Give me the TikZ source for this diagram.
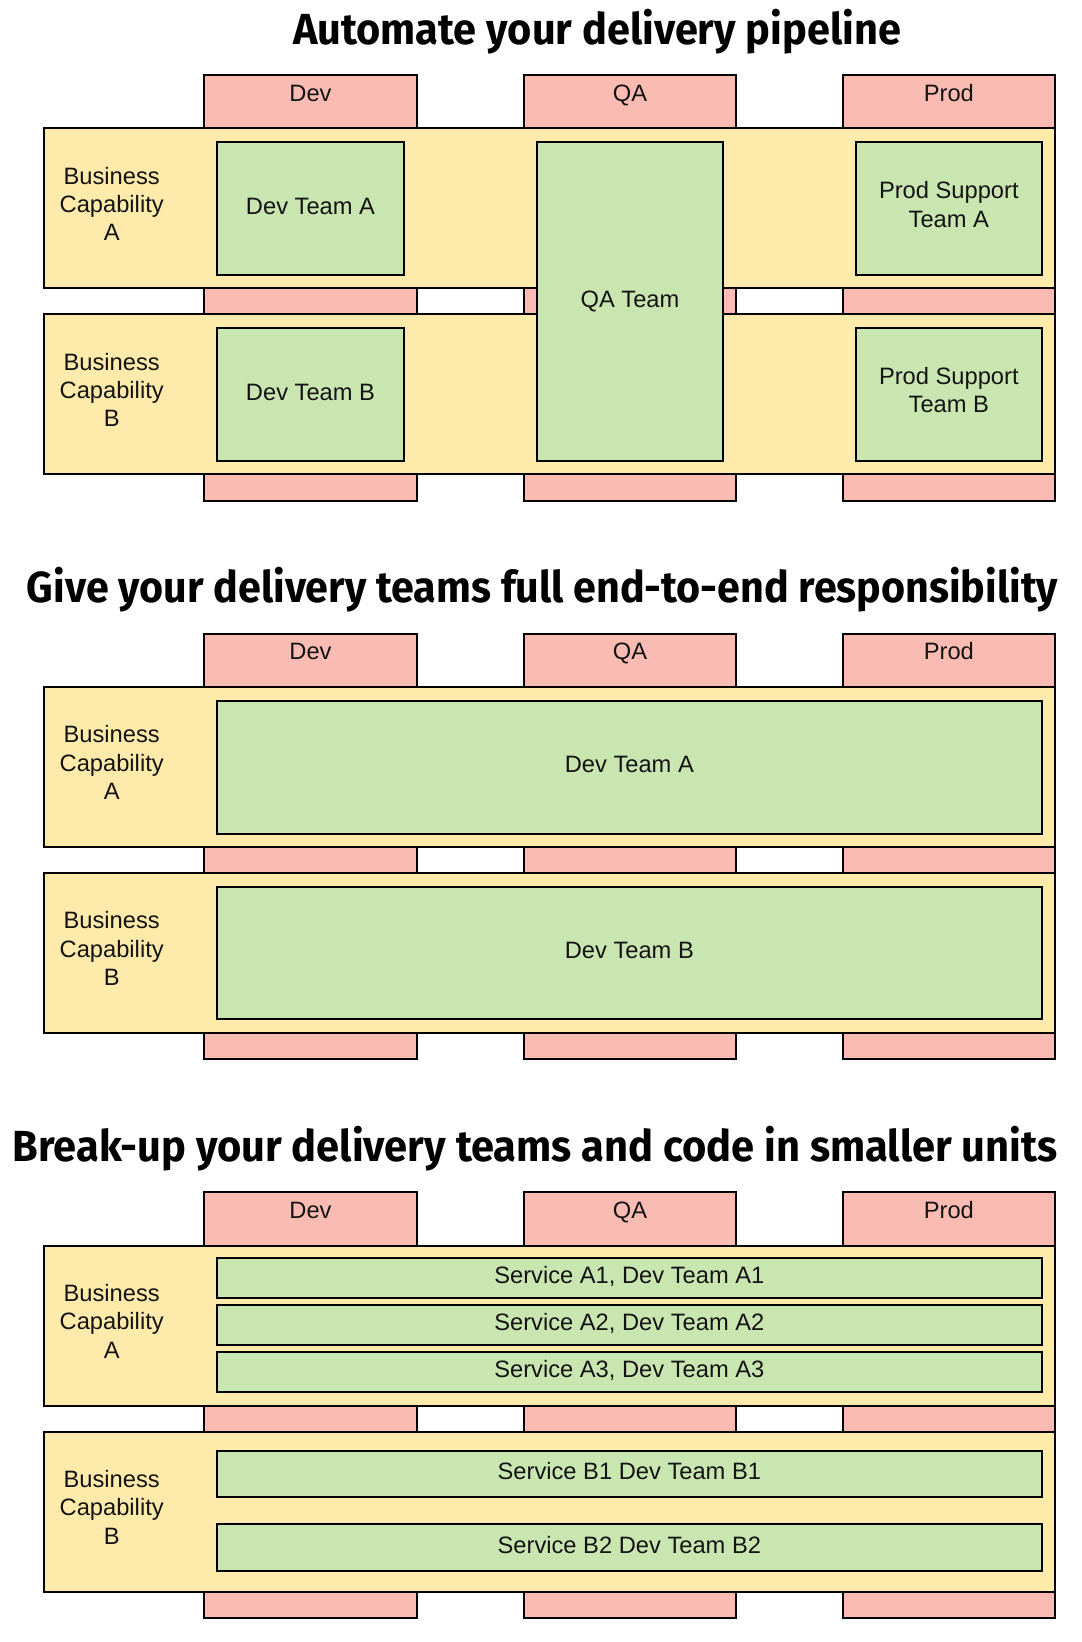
\documentclass[tikz,border=0pt]{standalone}
\usepackage{fontspec}
\setmainfont{Liberation Sans}
\newfontfamily\headingfamily{Fira Sans}
\usepackage{graphicx}

\definecolor{stagefill}{RGB}{250,188,178}
\definecolor{lanefill}{RGB}{254,234,170}
\definecolor{teamfill}{RGB}{201,229,176}

\newcommand\bodyfont{\fontsize{23.7}{28.3}\selectfont}
\newcommand\headingfont{\headingfamily\bfseries\fontsize{43.5}{50}\selectfont}

% rectangle node given by its corners: style, name, x1, y1, x2, y2
\newcommand\rectnode[6]{%
  \node[#1, minimum width={((#5)-(#3))*1pt}, minimum height={((#6)-(#4))*1pt}]
    (#2) at ({((#3)+(#5))/2},{((#4)+(#6))/2})}

\tikzset{
  every node/.style={inner sep=0pt, outer sep=0pt},
  outlined/.style={draw=black, line width=2pt, rectangle},
  stagebox/.style={outlined, fill=stagefill},
  lanebox/.style={outlined, fill=lanefill},
  labeltext/.style={font=\bodyfont, align=center, text=black!92,
    execute at begin node=\strut, execute at end node=\strut},
  teambox/.style={outlined, fill=teamfill, labeltext},
  headtext/.style={font=\bodyfont, text=black!92},
  titletext/.style={font=\headingfont, text=black},
}

\begin{document}
\begin{tikzpicture}[x=1pt, y=-1pt]
\useasboundingbox (0,0) rectangle (1082,1642);
\fill[white] (0,0) rectangle (1082,1642);

% headings
\node[titletext, anchor=base west] (title1) at (293,44)
  {\resizebox{608pt}{\height}{Automate your delivery pipeline}};
\node[titletext, anchor=base west] (title2) at (27,602.6)
  {\resizebox{1031pt}{\height}{Give your delivery teams full end-to-end responsibility}};
\node[titletext, anchor=base west] (title3) at (12.6,1161.2)
  {\resizebox{1045pt}{\height}{Break-up your delivery teams and code in smaller units}};

% stages, capability lanes and lane labels, repeated for each panel
\foreach \k/\oy in {1/0, 2/558.6, 3/1117.2}{
  \rectnode{stagebox}{dev\k}{204}{\oy+75}{417}{\oy+500.7}{};
  \rectnode{stagebox}{qa\k}{523.7}{\oy+75}{736.3}{\oy+500.7}{};
  \rectnode{stagebox}{prod\k}{843}{\oy+75}{1054.7}{\oy+500.7}{};
  \node[headtext, anchor=base] (devh\k) at (310.5,{\oy+101}) {Dev};
  \node[headtext, anchor=base] (qah\k) at (630,{\oy+101}) {QA};
  \node[headtext, anchor=base] (prodh\k) at (948.85,{\oy+101}) {Prod};
  \rectnode{lanebox}{laneA\k}{44.3}{\oy+128.3}{1054.7}{\oy+288.3}{};
  \rectnode{lanebox}{laneB\k}{44.3}{\oy+314.3}{1054.7}{\oy+474.3}{};
  \node[labeltext] (capA\k) at (111.7,{\oy+208.3}) {Business\\Capability\\A};
  \node[labeltext] (capB\k) at (111.7,{\oy+394.3}) {Business\\Capability\\B};
}

% panel 1: teams per stage
\rectnode{teambox}{devA}{217}{142.3}{404}{275}{Dev Team A};
\rectnode{teambox}{devB}{217}{328.3}{404}{460.7}{Dev Team B};
\rectnode{teambox}{qaTeam}{536.7}{142.3}{723.3}{460.7}{QA Team};
\rectnode{teambox}{prodA}{856}{142.3}{1041.7}{275}{Prod Support\\Team A};
\rectnode{teambox}{prodB}{856}{328.3}{1041.7}{460.7}{Prod Support\\Team B};

% panel 2: end-to-end teams
\rectnode{teambox}{e2eA}{217}{700.9}{1041.7}{833.6}{Dev Team A};
\rectnode{teambox}{e2eB}{217}{886.9}{1041.7}{1019.3}{Dev Team B};

% panel 3: one team per service
\rectnode{teambox}{svcA1}{217}{1258.3}{1041.7}{1298.3}{Service A1, Dev Team A1};
\rectnode{teambox}{svcA2}{217}{1305}{1041.7}{1345}{Service A2, Dev Team A2};
\rectnode{teambox}{svcA3}{217}{1351.7}{1041.7}{1391.7}{Service A3, Dev Team A3};
\rectnode{teambox}{svcB1}{217}{1451.2}{1041.7}{1497.3}{Service B1 Dev Team B1};
\rectnode{teambox}{svcB2}{217}{1524.2}{1041.7}{1571}{Service B2 Dev Team B2};
\end{tikzpicture}
\end{document}
